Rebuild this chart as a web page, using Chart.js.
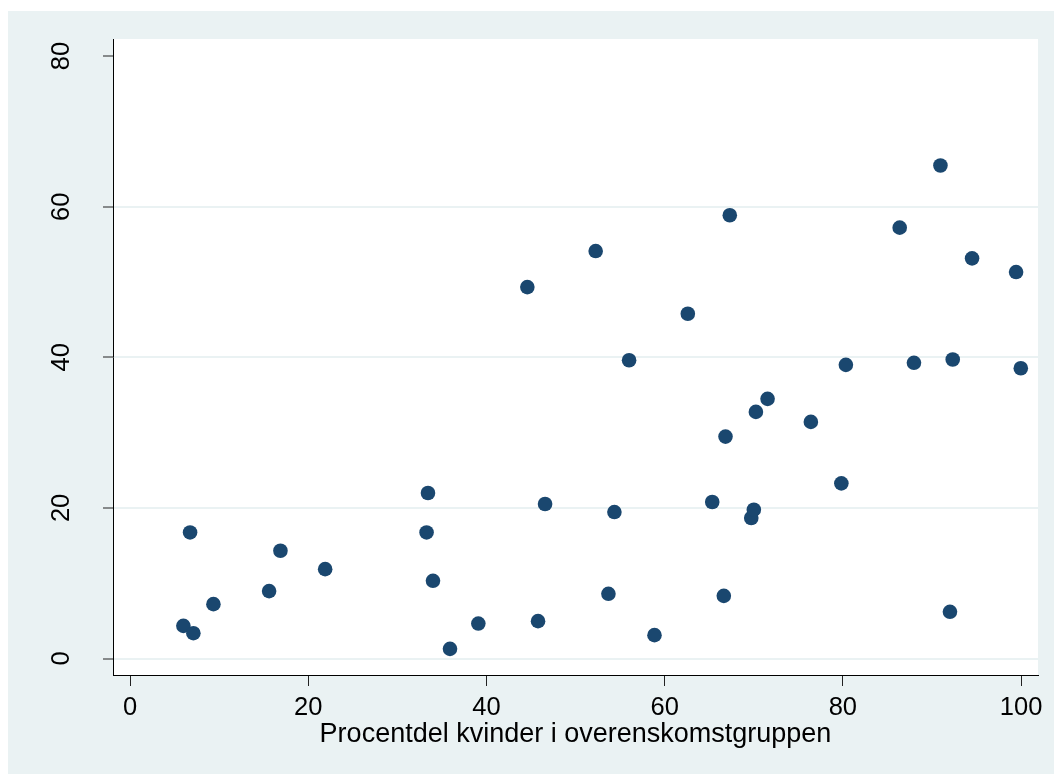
<!DOCTYPE html>
<html>
<head>
<meta charset="utf-8">
<script src="https://cdn.jsdelivr.net/npm/chart.js@4"></script>
<style>
    html, body { margin: 0; padding: 0; background: #fff; overflow: hidden; }
    #scatter { display: block; }
</style>
</head>
<body>
<canvas id="scatter" width="1054" height="774"></canvas>
<script>
// share of women in the group (x) against the other measure (y)
const pctWomen = [
    5.99, 7.11, 6.74, 9.36, 15.61, 16.88, 21.90, 33.28, 33.44, 34.00,
    35.91, 39.09, 44.59, 45.79, 46.58, 52.26, 53.69, 54.36, 56.01, 58.86,
    62.60, 65.34, 66.64, 66.83, 67.31, 69.72, 70.01, 70.24, 71.55, 76.41,
    79.83, 80.34, 86.38, 87.98, 90.95, 92.02, 92.33, 94.50, 99.44, 99.97
];
const yValues = [
    4.34, 3.36, 16.74, 7.22, 8.95, 14.31, 11.87, 16.74, 21.98, 10.32,
    1.28, 4.64, 49.32, 4.96, 20.52, 54.11, 8.59, 19.45, 39.61, 3.10,
    45.78, 20.78, 8.32, 29.47, 58.86, 18.66, 19.76, 32.75, 34.48, 31.42,
    23.26, 39.00, 57.22, 39.27, 65.47, 6.20, 39.71, 53.14, 51.32, 38.55
];
const xTicks = [0, 20, 40, 60, 80, 100];
const yTicks = [0, 20, 40, 60, 80];
const xTitle = 'Procentdel kvinder i overenskomstgruppen';

const bgColor = '#eaf2f3';
const markerColor = '#1a476f';
const fontFamily = '"Liberation Sans", Arial, sans-serif';

// light frame behind the plot, white plot region
const backdrop = {
    id: 'backdrop',
    beforeDraw(chart) {
        const { ctx, chartArea: a } = chart;
        ctx.save();
        ctx.fillStyle = '#fff';
        ctx.fillRect(0, 0, chart.width, chart.height);
        ctx.fillStyle = bgColor;
        ctx.fillRect(8, 11, chart.width - 8, chart.height - 11);
        ctx.fillStyle = '#fff';
        ctx.fillRect(a.left, a.top, a.right - a.left, a.bottom - a.top);
        ctx.restore();
    }
};

new Chart(document.getElementById('scatter'), {
    type: 'scatter',
    data: {
        datasets: [{
            data: pctWomen.map((x, i) => ({ x: x, y: yValues[i] })),
            backgroundColor: markerColor,
            borderWidth: 0,
            pointRadius: 7.3,
            pointHoverRadius: 7.3
        }]
    },
    plugins: [backdrop],
    options: {
        responsive: false,
        animation: false,
        layout: { padding: { left: 8, top: 39, right: 16, bottom: 0 } },
        plugins: {
            legend: { display: false },
            tooltip: { enabled: false }
        },
        scales: {
            x: {
                type: 'linear',
                min: -1.91,
                max: 101.9,
                afterBuildTicks: (axis) => { axis.ticks = xTicks.map(v => ({ value: v })); },
                afterFit: (axis) => {
                    axis.height = 99;
                    axis.paddingLeft = 0;
                    axis.paddingRight = 0;
                },
                grid: {
                    display: true,
                    drawOnChartArea: false,
                    drawTicks: true,
                    tickLength: 11,
                    tickColor: '#222',
                    tickWidth: 1
                },
                border: { display: true, color: '#000', width: 1 },
                ticks: {
                    color: '#000',
                    padding: 7,
                    maxRotation: 0,
                    font: { family: fontFamily, size: 25.5 }
                },
                title: {
                    display: true,
                    text: xTitle,
                    color: '#000',
                    padding: { top: 0, bottom: 23.5 },
                    font: { family: fontFamily, size: 27 }
                }
            },
            y: {
                type: 'linear',
                min: -2.19,
                max: 82.27,
                afterBuildTicks: (axis) => { axis.ticks = yTicks.map(v => ({ value: v })); },
                afterFit: (axis) => {
                    axis.width = 105;
                    axis.paddingTop = 0;
                    axis.paddingBottom = 0;
                },
                grid: {
                    display: true,
                    drawOnChartArea: true,
                    color: (c) => (c.tick && c.tick.value === 80) ? 'rgba(0,0,0,0)' : bgColor,
                    lineWidth: 2,
                    drawTicks: true,
                    tickLength: 10,
                    tickColor: '#222',
                    tickWidth: 1
                },
                border: { display: true, color: '#000', width: 1 },
                ticks: {
                    color: '#000',
                    padding: 27,
                    minRotation: 90,
                    maxRotation: 90,
                    crossAlign: 'center',
                    font: { family: fontFamily, size: 25.5 }
                }
            }
        }
    }
});
</script>
</body>
</html>
